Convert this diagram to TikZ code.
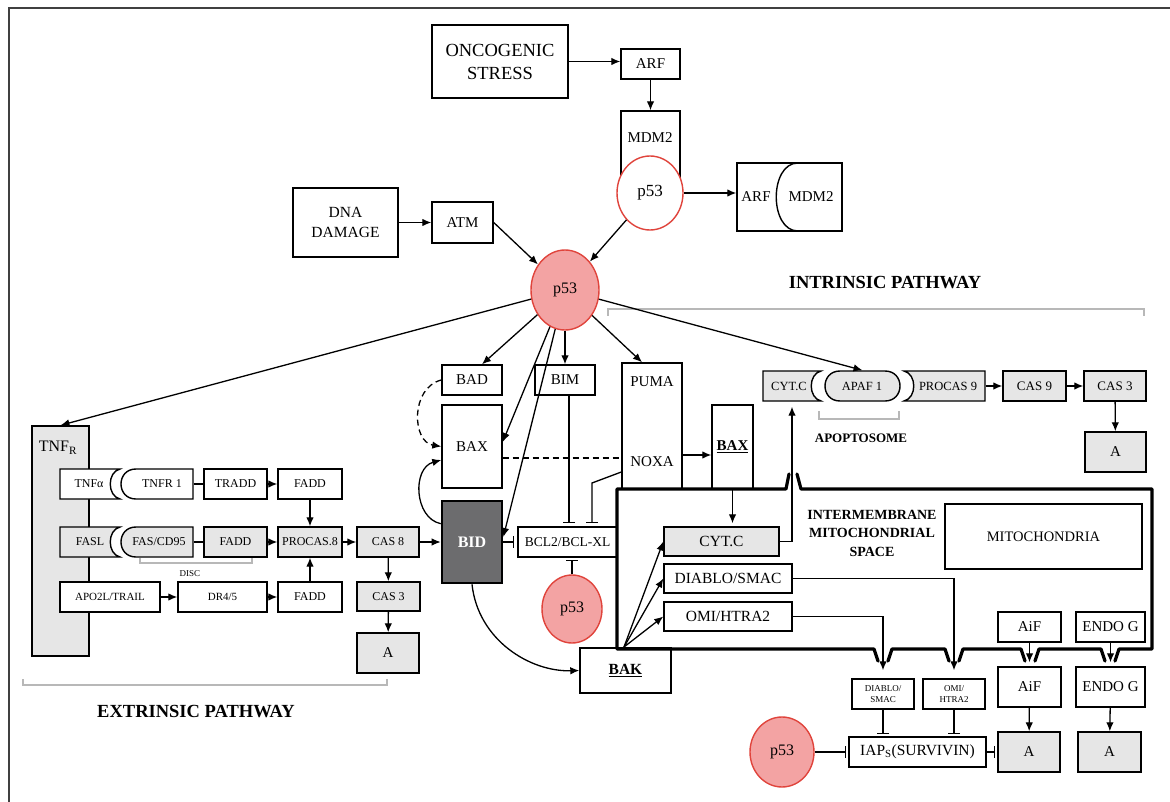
\documentclass[tikz,border=0pt]{standalone}
\usepackage{fontspec}
\setmainfont{Liberation Serif}
\usetikzlibrary{arrows.meta,shapes.geometric}
\definecolor{gb}{HTML}{E6E6E6}
\definecolor{pfill}{HTML}{F3A3A3}
\definecolor{pline}{HTML}{E0443C}
\definecolor{bidc}{HTML}{6C6C6E}
\definecolor{brk}{HTML}{B8B8B8}
\newcommand{\fs}[2]{\fontsize{#1}{#2}\selectfont}
\newcommand{\BX}[7][]{%
  \pgfmathsetmacro\bxw{#5-#3}%
  \pgfmathsetmacro\bxh{#6-#4}%
  \pgfmathsetmacro\bxx{(#3+#5)/2}%
  \pgfmathsetmacro\bxy{(#4+#6)/2}%
  \node[bx,minimum width=\bxw pt,minimum height=\bxh pt,#1] (#2) at (\bxx,\bxy) {#7};%
}
\tikzset{
  bx/.style={draw,line width=1.4pt,fill=white,inner sep=0pt,align=center,font=\fs{15}{18}},
  gbx/.style={fill=gb},
  nb/.style={draw=none,fill=none},
  sm/.style={font=\fs{12}{14}},
  tx/.style={inner sep=0pt,align=center,font=\fs{15}{18}},
  shp/.style={draw,line width=1.4pt,fill=white},
  gshp/.style={shp,fill=gb},
  arr/.style={line width=1.3pt,-{Latex[length=9pt,width=7.5pt]}},
  inh/.style={line width=1.3pt,-{Bar[width=12pt,line width=1.4pt]}},
  pln/.style={line width=1.3pt},
  dsh/.style={dash pattern=on 6pt off 4pt},
  brkt/.style={draw=brk,line width=1.2pt},
  memb/.style={line width=3.2pt,line join=round,line cap=round},
  pc/.style={ellipse,draw=pline,fill=pfill,line width=1.4pt,inner sep=0pt,font=\fs{16}{18}},
}
\begin{document}
\begin{tikzpicture}[x=1pt,y=-1pt]
\useasboundingbox (0,0) rectangle (1170,802);
\fill[white] (0,0) rectangle (1170,802);
\draw[line width=1.5pt,draw=black!75] (9,802) -- (9,8) -- (1170,8);

% ---------- top ----------
\BX[font=\fs{18.5}{23}]{os}{432}{25}{568}{98}{ONCOGENIC\\STRESS}
\BX{arf}{621}{49}{680}{79}{ARF}
\BX{mdm2box}{621}{111}{680}{200}{}
\node[tx] (mdm2) at (650,138) {MDM2};
\node[pc,fill=white,minimum width=66pt,minimum height=74pt,font=\fs{17}{19}] (p53t) at (650,193) {p53};
\BX{am}{737}{163}{842}{231}{}
\draw[line width=1.4pt] (798,163) .. controls (769,163) and (769,231) .. (798,231);
\node[tx] (amarf) at (756,197) {ARF};
\node[tx] (ammdm) at (811,197) {MDM2};
\BX[font=\fs{15.5}{20}]{dna}{293}{188}{398}{257}{DNA\\DAMAGE}
\BX{atm}{432}{202}{493}{243}{ATM}
\node[pc,minimum width=68pt,minimum height=80pt] (p53) at (565,290) {p53};

% ---------- labels & brackets ----------
\node[tx,font=\bfseries\fs{18.5}{22}] (intr) at (885,283) {INTRINSIC PATHWAY};
\node[tx,font=\bfseries\fs{18.5}{22}] (extr) at (196,712) {EXTRINSIC PATHWAY};
\draw[brkt] (608,316) -- (608,309) -- (1144,309) -- (1144,316);
\draw[brkt] (819,411) -- (819,419) -- (899,419) -- (899,411);
\draw[brkt] (140,558) -- (140,563) -- (252,563) -- (252,558);
\draw[brkt] (23,679) -- (23,685) -- (387,685) -- (387,679);
\node[tx,font=\fs{9}{11}] (disc) at (190,574) {DISC};
\node[tx,font=\bfseries\fs{13}{15}] (apopt) at (861,438) {APOPTOSOME};

% ---------- intrinsic ----------
\BX{bad}{442}{365}{502}{395}{BAD}
\BX{bim}{535}{365}{595}{395}{BIM}
\BX{baxl}{442}{405}{502}{488}{BAX}
\BX{puma}{622}{363}{682}{489}{}
\node[tx] (pumat) at (652,382) {PUMA};
\node[tx] (noxat) at (652,462) {NOXA};
\BX{baxr}{712}{405}{753}{489}{\textbf{\underline{BAX}}}
\BX[fill=bidc,line width=2.6pt,text=white,font=\bfseries\fs{16}{18}]{bid}{442}{501}{502}{583}{BID}
\BX[font=\fs{13.5}{16}]{bcl}{518}{527}{617}{557}{BCL2/BCL-XL}
\node[pc,minimum width=60pt,minimum height=68pt] (p53b) at (572,609) {p53};
\BX[font=\bfseries\fs{15.5}{18}]{bak}{580}{648}{671}{693}{\underline{BAK}}

% ---------- apoptosome strip ----------
\draw[gshp] (763,371) -- (821,371) .. controls (808,374) and (808,398) .. (821,401) -- (763,401) -- cycle;
\draw[gshp] (840,371) -- (885,371) .. controls (905,371) and (905,401) .. (885,401) -- (840,401) .. controls (820,401) and (820,371) .. (840,371) -- cycle;
\draw[gshp] (904,371) -- (985,371) -- (985,401) -- (904,401) .. controls (917,398) and (917,374) .. (904,371) -- cycle;
\BX[nb]{cytcbox}{763}{371}{821}{401}{}
\BX[nb]{apafbox}{825}{371}{900}{401}{}
\BX[nb]{procbox}{904}{371}{985}{401}{}
\node[tx,font=\fs{12.5}{15}] (cytct) at (789,386) {CYT.C};
\node[tx,font=\fs{12.5}{15}] (apaft) at (862,386) {APAF 1};
\node[tx,font=\fs{12.5}{15}] (proct) at (948,386) {PROCAS 9};
\BX[gbx,font=\fs{13}{15}]{cas9}{1003}{371}{1066}{401}{CAS 9}
\BX[gbx,font=\fs{13}{15}]{cas3i}{1084}{371}{1146}{401}{CAS 3}
\BX[gbx]{ai}{1085}{432}{1146}{472}{A}

% ---------- mitochondria ----------
\BX[gbx,font=\fs{15.5}{18}]{cytcin}{664}{527}{779}{556}{CYT.C}
\BX[font=\fs{15.5}{18}]{diablo}{664}{564}{792}{593}{DIABLO/SMAC}
\BX[font=\fs{15.5}{18}]{omi}{664}{602}{792}{631}{OMI/HTRA2}
\BX[font=\fs{14.5}{17}]{mito}{945}{504}{1142}{569}{MITOCHONDRIA}
\node[tx,font=\bfseries\fs{14}{18.5}] (ims) at (872,533) {INTERMEMBRANE\\MITOCHONDRIAL\\SPACE};
\BX{aifi}{998}{612}{1061}{642}{AiF}
\BX{endoi}{1076}{612}{1145}{642}{ENDO G}
\BX{aifo}{998}{667}{1061}{707}{AiF}
\BX{endoo}{1076}{667}{1145}{707}{ENDO G}
\BX[gbx]{aa}{998}{732}{1060}{772}{A}
\BX[gbx]{ae}{1078}{732}{1141}{772}{A}
\BX[font=\fs{9}{11}]{dsm}{852}{679}{914}{709}{DIABLO/\\SMAC}
\BX[font=\fs{9}{11}]{oht}{923}{679}{985}{709}{OMI/\\HTRA2}
\BX[font=\fs{15.5}{18}]{iap}{849}{737}{986}{767}{IAP\textsubscript{S}(SURVIVIN)}
\node[pc,minimum width=64pt,minimum height=70pt] (p53c) at (782,752) {p53};

% ---------- extrinsic ----------
\BX[gbx]{tnfr}{32}{426}{89}{656}{}
\node[tx,font=\fs{16}{18}] (tnfrt) at (58,448) {TNF\textsubscript{R}};
% row 1
\draw[shp] (60,469) -- (120,469) .. controls (107,472) and (107,496) .. (120,499) -- (60,499) -- cycle;
\draw[shp] (193,469) -- (136,469) .. controls (116,469) and (116,499) .. (136,499) -- (193,499) -- cycle;
\BX[nb]{tnfabox}{60}{469}{120}{499}{}
\BX[nb]{tnfr1box}{121}{469}{193}{499}{}
\node[tx,sm] (tnfat) at (89,484) {TNFα};
\node[tx,sm] (tnfr1t) at (162,484) {TNFR 1};
\BX[sm]{tradd}{204}{469}{267}{499}{TRADD}
\BX[sm]{fadd1}{278}{469}{342}{499}{FADD}
% row 2
\draw[gshp] (60,527) -- (120,527) .. controls (107,530) and (107,554) .. (120,557) -- (60,557) -- cycle;
\draw[gshp] (193,527) -- (136,527) .. controls (116,527) and (116,557) .. (136,557) -- (193,557) -- cycle;
\BX[nb]{faslbox}{60}{527}{120}{557}{}
\BX[nb]{fasbox}{121}{527}{193}{557}{}
\node[tx,sm] (faslt) at (90,542) {FASL};
\node[tx,sm] (fast) at (159,542) {FAS/CD95};
\BX[sm,gbx]{fadd2}{204}{527}{267}{557}{FADD}
\BX[sm,gbx]{proc8}{278}{527}{342}{557}{PROCAS.8}
\BX[sm,gbx]{cas8}{357}{527}{419}{557}{CAS 8}
% row 3
\BX[font=\fs{11}{13}]{apo}{60}{582}{160}{612}{APO2L/TRAIL}
\BX[font=\fs{11}{13}]{dr}{178}{582}{267}{612}{DR4/5}
\BX[sm]{fadd3}{278}{582}{342}{612}{FADD}
\BX[sm,gbx]{cas3e}{357}{582}{420}{611}{CAS 3}
\BX[gbx]{aex}{357}{633}{419}{673}{A}

% ---------- connectors: top ----------
\draw[arr] (os) -- (os -| arf.west);
\draw[arr] (arf) -- (mdm2box.north);
\draw[arr] (p53t) -- (p53t -| am.west);
\draw[arr] (dna) -- (dna -| atm.west);
\draw[arr] (atm.east) -- (p53);
\draw[arr] (p53t) -- (p53);

% ---------- connectors: from p53 ----------
\draw[arr] (p53) -- (tnfr.north);
\draw[arr] (p53) -- ([xshift=10pt]bad.north);
\draw[arr] (p53) -- ([yshift=4.5pt]baxl.east);
\draw[arr] (p53) -- ([yshift=5pt]bid.east);
\draw[arr] (p53) -- (bim);
\draw[arr] (p53) -- ([xshift=-10pt]puma.north);
\draw[arr] (p53) -- (apafbox.north);

% ---------- connectors: BCL2 family ----------
\draw[arr,dsh] (bad.west) .. controls (410,388) and (412,442) .. (baxl.west);
\draw[arr] ([yshift=-24pt]bid.north west) .. controls (414,518) and (412,468) .. ([yshift=-13.5pt]baxl.west);
\draw[pln,dsh] ([yshift=-11.5pt]baxl.east) -- ([yshift=-11.5pt]baxl.east -| puma.west);
\draw[arr] ([yshift=-29pt]puma.east) -- ([yshift=-29pt]puma.east -| baxr.west);
\coordinate (nk) at (592,483);
\draw[inh,shorten >=3pt] ([yshift=-46pt]puma.west) -- (nk) -- (nk |- bcl.north);
\draw[inh,shorten >=3pt] ([xshift=4pt]bim.south) -- ([xshift=4pt]bim.south |- bcl.north);
\draw[inh,shorten >=3pt] (bid.east) -- (bid.east -| bcl.west);
\draw[inh,shorten >=2pt] (p53b) -- (p53b |- bcl.south);
\draw[arr] (bid.south) .. controls (478,640) and (530,672) .. (bak.west);
\draw[arr] (cas8) -- (cas8 -| bid.west);

% ---------- connectors: mitochondria ----------
\coordinate (bakout) at (624,647);
\draw[arr,shorten >=3pt] (baxr.south) -- (baxr.south |- cytcin.north);
\draw[arr,shorten >=5pt] (cytcin.east) -| (cytcbox.south);
\draw[arr] (bakout) -- (cytcin.west);
\draw[arr] (bakout) -- (diablo.west);
\draw[arr] (bakout) -- (omi.west);
\draw[arr,shorten >=8pt] (diablo.east) -| (oht.north);
\draw[arr,shorten >=8pt] (omi.east) -| (dsm.north);
\draw[arr,shorten >=4pt] (aifi) -- (aifo);
\draw[arr,shorten >=4pt] (endoi) -- (endoo);
\draw[arr] (aifo) -- (aa);
\draw[arr] (endoo) -- (ae);
\draw[inh,shorten >=2pt] (dsm) -- (dsm |- iap.north);
\draw[inh,shorten >=2pt] (oht) -- (oht |- iap.north);
\draw[inh,shorten >=2pt] (p53c) -- (p53c -| iap.west);
\draw[inh,shorten >=2pt] (iap) -- (iap -| aa.west);

% ---------- connectors: apoptosome ----------
\draw[arr] (procbox) -- (cas9);
\draw[arr] (cas9) -- (cas3i);
\draw[arr] (cas3i) -- (ai);

% ---------- connectors: extrinsic ----------
\draw[pln] (tnfr1box.east) -- (tradd.west);
\draw[arr] (tradd) -- (fadd1);
\draw[arr] (fadd1) -- (proc8);
\draw[pln] (fasbox.east) -- (fadd2.west);
\draw[arr] (fadd2) -- (proc8);
\draw[arr] (apo) -- (dr);
\draw[arr] (dr) -- (fadd3);
\draw[arr] (fadd3) -- (proc8);
\draw[arr] (proc8) -- (cas8);
\draw[arr] (cas8) -- (cas3e);
\draw[arr] (cas3e) -- (aex);

% ---------- membrane ----------
\draw[memb] (789,474) -- (786,489) -- (617,489) -- (617,649) -- (874,649) -- (878,661)
  (888,661) -- (892,649) -- (945,649) -- (949,661)
  (959,661) -- (963,649) -- (1021,649) -- (1025,661)
  (1035,661) -- (1039,649) -- (1101,649) -- (1105,661)
  (1115,661) -- (1119,649) -- (1152,649) -- (1152,489) -- (801,489) -- (797,474);
\end{tikzpicture}
\end{document}
